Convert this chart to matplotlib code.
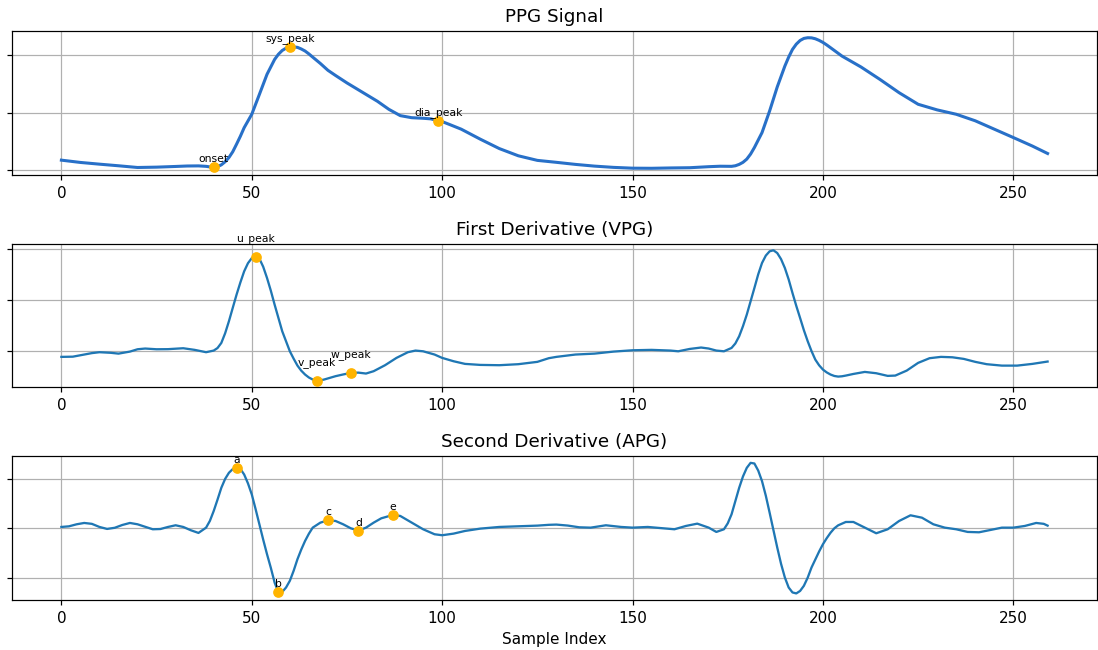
import matplotlib
matplotlib.use("Agg")
import matplotlib.pyplot as plt
from matplotlib.ticker import MultipleLocator

DPI = 110
MARKER_COLOR = "#FFB400"

# PPG signal (sample index, amplitude)
ppg_x = [0, 5, 10, 15, 20, 25, 30, 33, 36, 38, 39, 40, 41, 42, 43, 44, 45, 46, 47, 48,
	50, 52, 54, 56, 57, 58, 59, 60, 61, 62, 63, 64, 65, 66, 68, 70, 72, 75, 78, 80,
	83, 86, 89, 92, 95, 97, 99, 100, 102, 105, 110, 115, 120, 125, 130, 135, 140, 145, 150, 155,
	160, 165, 170, 173, 176, 177, 178, 179, 180, 181, 182, 184, 186, 188, 190, 191, 192, 193, 194, 195,
	196, 197, 198, 199, 200, 201, 202, 205, 210, 215, 220, 225, 230, 235, 240, 245, 250, 255, 259]
ppg_y = [0.087, 0.067, 0.052, 0.038, 0.023, 0.026, 0.032, 0.036, 0.037, 0.033, 0.028, 0.023, 0.03, 0.046, 0.073, 0.11, 0.16, 0.226, 0.295, 0.37,
	0.487, 0.66, 0.835, 0.965, 1.01, 1.043, 1.063, 1.072, 1.074, 1.07, 1.056, 1.038, 1.013, 0.985, 0.93, 0.87, 0.825, 0.76, 0.70, 0.66,
	0.60, 0.53, 0.475, 0.457, 0.452, 0.447, 0.43, 0.423, 0.397, 0.357, 0.27, 0.188, 0.125, 0.085, 0.068, 0.05, 0.035, 0.024, 0.017, 0.016,
	0.019, 0.021, 0.03, 0.034, 0.033, 0.038, 0.05, 0.068, 0.096, 0.14, 0.197, 0.327, 0.516, 0.725, 0.907, 0.985, 1.052, 1.098, 1.13, 1.148,
	1.154, 1.153, 1.145, 1.131, 1.113, 1.091, 1.067, 0.994, 0.899, 0.79, 0.675, 0.574, 0.525, 0.487, 0.43, 0.357, 0.284, 0.21, 0.145]

# first derivative (VPG)
vpg_x = [0, 3, 5, 8, 10, 13, 15, 18, 20, 22, 25, 28, 32, 35, 38, 40, 41, 42, 43, 44,
	45, 46, 47, 48, 49, 50, 51, 52, 53, 54, 55, 56, 58, 60, 61, 62, 63, 64, 65, 66,
	67, 68, 69, 72, 74, 76, 78, 80, 82, 85, 88, 91, 93, 95, 98, 100, 103, 106, 110, 115,
	120, 125, 128, 130, 135, 140, 145, 150, 155, 160, 162, 165, 168, 170, 172, 174, 176, 177, 178, 179,
	180, 181, 182, 183, 184, 185, 186, 187, 188, 189, 190, 191, 192, 193, 194, 195, 196, 197, 198, 199,
	200, 201, 202, 203, 204, 205, 206, 208, 211, 214, 217, 219, 222, 225, 228, 231, 234, 237, 240, 243,
	247, 251, 255, 259]
vpg_y = [-0.062, -0.06, -0.046, -0.025, -0.016, -0.022, -0.03, -0.01, 0.013, 0.02, 0.013, 0.014, 0.023, 0.007, -0.016, 0.0, 0.025, 0.075, 0.17, 0.289,
	0.42, 0.55, 0.67, 0.78, 0.86, 0.91, 0.92, 0.905, 0.825, 0.715, 0.59, 0.452, 0.19, -0.007, -0.08, -0.148, -0.198, -0.236, -0.265, -0.285,
	-0.298, -0.293, -0.285, -0.252, -0.235, -0.22, -0.217, -0.226, -0.203, -0.144, -0.072, -0.016, 0.0, -0.007, -0.039, -0.072, -0.105, -0.131, -0.141, -0.144,
	-0.134, -0.111, -0.075, -0.062, -0.039, -0.03, -0.01, 0.003, 0.007, 0.0, -0.007, 0.016, 0.03, 0.02, 0.0, -0.007, 0.026, 0.07, 0.141, 0.24,
	0.354, 0.485, 0.616, 0.75, 0.862, 0.935, 0.977, 0.987, 0.96, 0.9, 0.813, 0.7, 0.567, 0.44, 0.321, 0.2, 0.092, -0.005, -0.089, -0.145,
	-0.187, -0.215, -0.236, -0.25, -0.256, -0.253, -0.246, -0.23, -0.21, -0.223, -0.249, -0.246, -0.197, -0.121, -0.075, -0.062, -0.066, -0.082, -0.111, -0.134,
	-0.148, -0.148, -0.131, -0.108]

# second derivative (APG)
apg_x = [0, 2, 4, 6, 8, 10, 12, 14, 16, 18, 20, 22, 24, 26, 28, 30, 32, 34, 36, 38,
	39, 40, 41, 42, 43, 44, 45, 46, 47, 48, 49, 50, 51, 52, 53, 54, 55, 56, 57, 58,
	59, 60, 61, 62, 63, 64, 65, 66, 68, 70, 72, 74, 76, 78, 80, 82, 84, 87, 89, 92,
	95, 98, 100, 103, 106, 110, 115, 120, 125, 128, 130, 133, 136, 139, 143, 147, 150, 154, 158, 161,
	164, 167, 170, 172, 174, 175, 176, 177, 178, 179, 180, 181, 182, 183, 184, 185, 186, 187, 188, 189,
	190, 191, 192, 193, 194, 195, 196, 197, 198, 199, 200, 201, 202, 203, 204, 206, 208, 211, 214, 217,
	220, 223, 226, 229, 232, 235, 238, 241, 244, 247, 250, 253, 256, 258, 259]
apg_y = [0.027, 0.04, 0.081, 0.108, 0.09, 0.027, -0.013, 0.01, 0.067, 0.108, 0.081, 0.03, -0.02, -0.015, 0.027, 0.061, 0.027, -0.04, -0.094, 0.013,
	0.15, 0.35, 0.58, 0.82, 1.0, 1.125, 1.2, 1.225, 1.205, 1.09, 0.91, 0.687, 0.39, 0.081, -0.23, -0.525, -0.8, -1.1, -1.3, -1.29,
	-1.2, -1.064, -0.86, -0.626, -0.43, -0.256, -0.11, 0.013, 0.114, 0.162, 0.148, 0.081, 0.0, -0.047, 0.013, 0.114, 0.202, 0.269, 0.25, 0.114,
	-0.02, -0.121, -0.141, -0.108, -0.054, -0.007, 0.027, 0.04, 0.054, 0.07, 0.075, 0.055, 0.02, 0.013, 0.061, 0.027, 0.013, 0.027, 0.0, -0.02,
	0.047, 0.094, 0.013, -0.074, -0.02, 0.1, 0.283, 0.55, 0.82, 1.05, 1.225, 1.326, 1.313, 1.17, 0.956, 0.66, 0.316, -0.04, -0.39, -0.72,
	-0.997, -1.2, -1.3, -1.32, -1.27, -1.165, -1.0, -0.795, -0.63, -0.47, -0.323, -0.2, -0.09, 0.0, 0.06, 0.128, 0.128, 0.013, -0.101, -0.02,
	0.148, 0.263, 0.215, 0.081, 0.013, -0.02, -0.074, -0.081, -0.034, 0.013, 0.013, 0.047, 0.108, 0.09, 0.054]

# fiducial points (label, sample index)
ppg_points = [("onset", 40), ("sys_peak", 60), ("dia_peak", 99)]
vpg_points = [("u_peak", 51), ("v_peak", 67), ("w_peak", 76)]
apg_points = [("a", 46), ("b", 57), ("c", 70), ("d", 78), ("e", 87)]


def plot_panel(ax, xs, ys, points, title, color, lw, step, offset):
	ax.plot(xs, ys, color=color, linewidth=lw)
	for label, idx in points:
		y = ys[xs.index(idx)]
		ax.plot(idx, y, "o", color=MARKER_COLOR, markersize=6, zorder=3)
		ax.annotate(label, (idx, y), xytext=(0, offset), textcoords="offset points",
			ha="center", va="bottom", fontsize=7)
	ax.set_title(title)
	ax.yaxis.set_major_locator(MultipleLocator(step))
	ax.set_yticklabels([])
	ax.grid(True)


def main():
	fig, axes = plt.subplots(3, 1, figsize=(1098 / DPI, 650 / DPI), dpi=DPI)

	plot_panel(axes[0], ppg_x, ppg_y, ppg_points, "PPG Signal", "#2870c8", 2, 0.5, 2)
	plot_panel(axes[1], vpg_x, vpg_y, vpg_points, "First Derivative (VPG)", "#1f77b4", 1.5, 0.5, 8.5)
	plot_panel(axes[2], apg_x, apg_y, apg_points, "Second Derivative (APG)", "#1f77b4", 1.5, 1.0, 2)
	axes[2].set_xlabel("Sample Index")

	plt.subplots_adjust(left=0.011, right=0.999, top=0.952, bottom=0.077, hspace=0.48)
	plt.savefig("out.png", dpi=DPI)

main()
